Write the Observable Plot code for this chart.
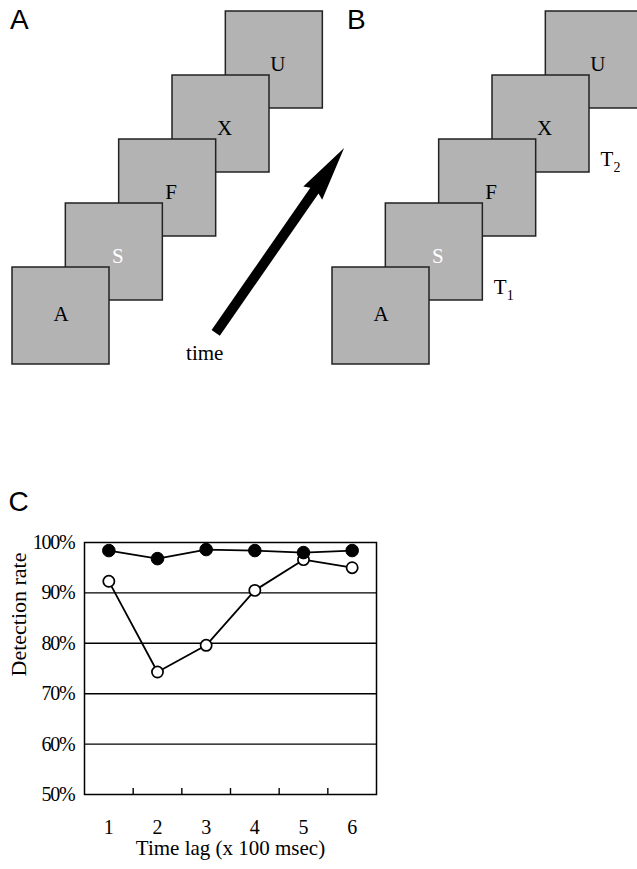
<!DOCTYPE html>
<html>
<head>
<meta charset="utf-8">
<script src="https://cdn.jsdelivr.net/npm/d3@7"></script>
<script src="https://cdn.jsdelivr.net/npm/@observablehq/plot@0.6"></script>
<style>
  html, body { margin: 0; padding: 0; background: #fff; }
  #fig { position: relative; width: 637px; height: 869px; overflow: hidden; }
  .panel { position: absolute; left: 0; }
  .plabel { position: absolute; font-family: "Liberation Sans", Arial, sans-serif; font-size: 28px; line-height: 1; color: #000; }
</style>
</head>
<body>
<div id="fig"></div>
<script>
// ---------- data ----------
const panelNames = ["A", "B"];
const frameLetters = ["A", "S", "F", "X", "U"];
const targetLetter = "S";                 // letter drawn in white
const targetMarks = [                      // T1 / T2 labels (panel B)
  { panel: "B", letter: "S", base: "T", sub: "1" },
  { panel: "B", letter: "X", base: "T", sub: "2" }
];
const timeLabel = "time";

const timeLags = [1, 2, 3, 4, 5, 6];
const filledRates = [98.4, 96.8, 98.6, 98.4, 98.0, 98.4];
const openRates = [92.3, 74.3, 79.6, 90.5, 96.6, 95.0];
const yTicks = [50, 60, 70, 80, 90, 100];
const gridValues = [60, 70, 80, 90];
const xLabel = "Time lag (x 100 msec)";
const yLabel = "Detection rate";

// ---------- layout helpers ----------
const fig = document.getElementById("fig");
const SERIF = "'Liberation Serif', 'Times New Roman', serif";
const PANEL_SHIFT = 6;          // x steps between panel A and B
const SIZE_X = 97 / 53.33;      // frame width in x-steps
const SIZE_Y = 97 / 64;         // frame height in y-steps

const frames = [];
panelNames.forEach((p, pi) => frameLetters.forEach((letter, i) => frames.push({ panel: p, pi, i, letter })));
const framesBackToFront = frames.slice().sort((a, b) => b.i - a.i);
const left = d => d.pi * PANEL_SHIFT + d.i;

const tMarks = targetMarks.map(t => {
  const f = frames.find(d => d.panel === t.panel && d.letter === t.letter);
  return { ...t, pi: f.pi, i: f.i };
});

const arrowTail = [{ x: 3.81, y: -1.02 }];
const arrowShape = {
  draw(context, l) {
    const w = 5, hw = 11.5, h = 52;
    context.moveTo(-w, 0);
    context.lineTo(-w, -(l - h));
    context.lineTo(-hw, -(l - h) + 3);
    context.lineTo(0, -l);
    context.lineTo(hw, -(l - h) + 3);
    context.lineTo(w, -(l - h));
    context.lineTo(w, 0);
    context.closePath();
  }
};

// ---------- panels A & B ----------
const diagram = Plot.plot({
  width: 637, height: 380, margin: 0,
  x: { type: "linear", domain: [0, 12], range: [12, 652], axis: null },
  y: { type: "linear", domain: [0, 4], range: [267, 11], axis: null },
  style: { fontFamily: SERIF, background: "transparent" },
  marks: [
    Plot.rect(framesBackToFront, {
      x1: d => left(d), x2: d => left(d) + SIZE_X,
      y1: d => d.i, y2: d => d.i - SIZE_Y,
      fill: "#b3b3b3", stroke: "#222", strokeWidth: 1.5
    }),
    Plot.text(frames, {
      x: d => left(d) + (d.i === 0 ? 48.5 : 52) / 53.33,
      y: d => d.i - (d.i === 0 ? 47 : 53) / 64,
      text: "letter", fontSize: 21, lineAnchor: "middle",
      fill: d => d.letter === targetLetter ? "white" : "black"
    }),
    Plot.text(tMarks, {
      x: d => left(d) + SIZE_X, y: d => d.i - SIZE_Y, text: "base",
      dx: 11, dy: -13, textAnchor: "start", lineAnchor: "middle", fontSize: 21, fill: "black"
    }),
    Plot.text(tMarks, {
      x: d => left(d) + SIZE_X, y: d => d.i - SIZE_Y, text: "sub",
      dx: 24, dy: -5, textAnchor: "start", lineAnchor: "middle", fontSize: 14, fill: "black"
    }),
    Plot.vector(arrowTail, {
      x: "x", y: "y", length: 225, rotate: 34.8, anchor: "start",
      shape: arrowShape, fill: "black", stroke: "none"
    }),
    Plot.text(arrowTail, {
      x: "x", y: "y", text: () => timeLabel, dx: -11, dy: 20,
      fontSize: 21, lineAnchor: "middle", fill: "black"
    })
  ]
});
diagram.classList.add("panel");
diagram.style.top = "0px";
fig.appendChild(diagram);

// ---------- panel C ----------
const openData = timeLags.map((t, k) => ({ lag: t, rate: openRates[k] }));
const filledData = timeLags.map((t, k) => ({ lag: t, rate: filledRates[k] }));
const boundaries = timeLags.slice(0, -1).map(t => t + 0.5);

const chart = Plot.plot({
  width: 400, height: 389,
  marginLeft: 84, marginRight: 24, marginTop: 62, marginBottom: 75,
  x: { type: "linear", domain: [timeLags[0] - 0.5, timeLags[timeLags.length - 1] + 0.5] },
  y: { type: "linear", domain: [50, 100] },
  style: { fontFamily: SERIF, fontSize: "20px", color: "black", background: "transparent" },
  marks: [
    Plot.ruleY(gridValues, { stroke: "black", strokeWidth: 1.4 }),
    Plot.ruleX(boundaries, { y1: 50, y2: 51.2, stroke: "black", strokeWidth: 1.4 }),
    Plot.frame({ stroke: "black", strokeWidth: 1.5 }),
    Plot.axisX(timeLags, {
      tickSize: 0, tickPadding: 25, tickFormat: d => String(d), label: null, fontSize: 20
    }),
    Plot.axisY(yTicks, {
      tickSize: 0, tickPadding: 10, tickFormat: d => `${d}%`, label: null, fontSize: 20
    }),
    Plot.text([xLabel], {
      frameAnchor: "bottom", text: d => d, dy: 54, lineAnchor: "middle", fontSize: 21, fill: "black"
    }),
    Plot.text([yLabel], {
      frameAnchor: "left", text: d => d, rotate: -90, dx: -66, dy: 8,
      lineAnchor: "middle", fontSize: 22, fill: "black"
    }),
    Plot.line(openData, { x: "lag", y: "rate", stroke: "black", strokeWidth: 1.8 }),
    Plot.dot(openData, { x: "lag", y: "rate", r: 5.6, fill: "white", stroke: "black", strokeWidth: 1.7 }),
    Plot.line(filledData, { x: "lag", y: "rate", stroke: "black", strokeWidth: 1.8 }),
    Plot.dot(filledData, { x: "lag", y: "rate", r: 6.3, fill: "black", stroke: "black", strokeWidth: 1 })
  ]
});
chart.classList.add("panel");
chart.style.top = "480px";
d3.select(chart).selectAll('g[aria-label="y-axis tick label"] text').attr("letter-spacing", "-1.2px");
fig.appendChild(chart);

// ---------- panel letters ----------
[["A", 10, 6], ["B", 347, 6], ["C", 8.5, 488]].forEach(([t, x, y]) => {
  const el = document.createElement("div");
  el.className = "plabel";
  el.textContent = t;
  el.style.left = x + "px";
  el.style.top = y + "px";
  fig.appendChild(el);
});
</script>
</body>
</html>
